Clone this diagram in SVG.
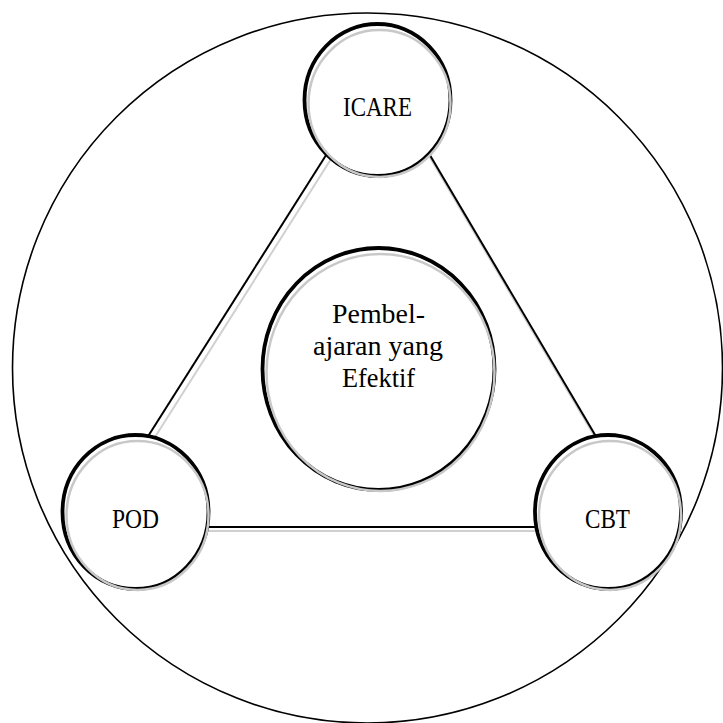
<svg xmlns="http://www.w3.org/2000/svg" width="723" height="723" viewBox="0 0 723 723">
<style>
.node{fill:#fff;stroke:#000;stroke-width:3.8}
.shadow{fill:none;stroke:#c8c8c8;stroke-width:2.5}
.edge{stroke:#000;stroke-width:2;fill:none}
.eshadow{stroke:#d0d0d0;stroke-width:2;fill:none}
text{font-family:"Liberation Serif","Times New Roman",serif;font-size:27px;fill:#000;text-anchor:middle}
</style>
<rect width="723" height="723" fill="#fff"/>
<g id="outer">
<circle cx="367.5" cy="368" r="355" fill="none" stroke="#000" stroke-width="1.6"/>
</g>
<g id="connectors">
<line class="eshadow" x1="142" y1="452" x2="337" y2="144" transform="translate(1,4)"/>
<line class="edge" x1="140" y1="449" x2="335" y2="141"/>
<line class="eshadow" x1="421" y1="140" x2="604" y2="450" transform="translate(1,4)"/>
<line class="edge" x1="421" y1="140" x2="604" y2="450"/>
<line class="eshadow" x1="200" y1="527" x2="545" y2="527" transform="translate(0,4)"/>
<line class="edge" x1="200" y1="527" x2="545" y2="527"/>
</g>
<g id="icare">
<ellipse class="node" cx="377.5" cy="100" rx="73" ry="76"/>
<ellipse class="shadow" cx="379.5" cy="103.5" rx="71" ry="73.5"/>
<text x="377.5" y="116" textLength="69" lengthAdjust="spacingAndGlyphs">ICARE</text>
</g>
<g id="pod">
<ellipse class="node" cx="135.5" cy="512" rx="73" ry="77"/>
<ellipse class="shadow" cx="137.5" cy="515.5" rx="71" ry="74.5"/>
<text x="135.5" y="528" textLength="47" lengthAdjust="spacingAndGlyphs">POD</text>
</g>
<g id="cbt">
<ellipse class="node" cx="608" cy="512" rx="73" ry="77"/>
<ellipse class="shadow" cx="610" cy="515.5" rx="71" ry="74.5"/>
<text x="607.5" y="528" textLength="45" lengthAdjust="spacingAndGlyphs">CBT</text>
</g>
<g id="center">
<ellipse class="node" cx="378.5" cy="369" rx="116" ry="121"/>
<ellipse class="shadow" cx="380.5" cy="372.5" rx="114" ry="118.5"/>
<text x="378.5" y="323" textLength="93" lengthAdjust="spacingAndGlyphs">Pembel-</text>
<text x="378" y="355" textLength="130" lengthAdjust="spacingAndGlyphs">ajaran yang</text>
<text x="378.5" y="387" textLength="73" lengthAdjust="spacingAndGlyphs">Efektif</text>
</g>
</svg>
